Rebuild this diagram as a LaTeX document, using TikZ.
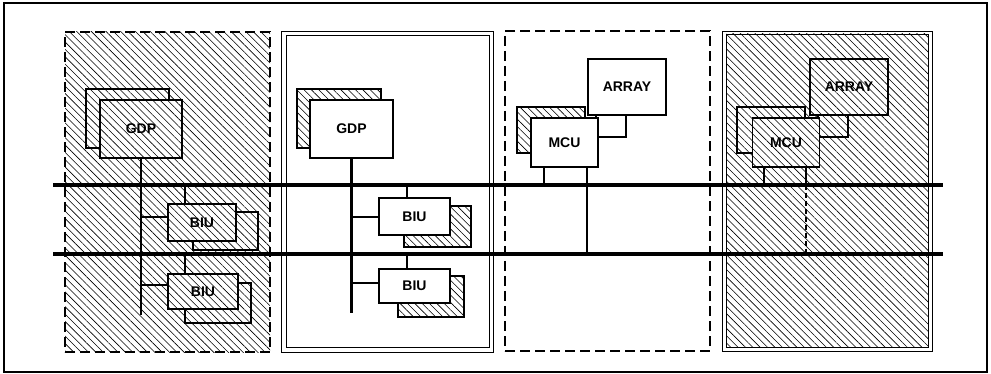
\documentclass[tikz,border=0pt]{standalone}
\usepackage{fontspec}
\setmainfont{Liberation Sans}
\usetikzlibrary{patterns.meta}
\begin{document}
\begin{tikzpicture}[x=1pt,y=-1pt,
  every node/.style={inner sep=0pt, outer sep=0pt, rectangle, font=\fontsize{14}{16}\selectfont\bfseries},
  hatch/.style={preaction={fill=white}, pattern={Lines[angle=-45,distance=5.2pt,line width=0.6pt]}},
  box/.style={draw, line width=1.1pt, fill=white},
  hbox/.style={draw, line width=1.1pt, hatch},
  dpanel/.style={draw, line width=1.1pt, dash pattern=on 10pt off 5pt},
  spanel/.style={draw, line width=0.9pt},
  bus/.style={line width=4pt},
  thinline/.style={line width=1.1pt},
  thickline/.style={line width=2.4pt},
]
\useasboundingbox (0,0) rectangle (991,374);
% outer frame
\node[draw, line width=1.5pt, minimum width=983pt, minimum height=369pt] (frame) at (495.5,187.5) {};
% panels
\node[dpanel, hatch, minimum width=205pt, minimum height=320pt] (p1) at (167.5,192) {};
\node[spanel, minimum width=212pt, minimum height=321pt] (p2o) at (387,191.5) {};
\node[spanel, minimum width=203pt, minimum height=312pt] (p2i) at (387.5,191) {};
\node[dpanel, minimum width=205pt, minimum height=320pt] (p3) at (607.5,191) {};
\node[spanel, minimum width=210pt, minimum height=320pt] (p4o) at (827,191) {};
\node[spanel, hatch, minimum width=202pt, minimum height=313pt] (p4i) at (827,190.5) {};
% buses
\coordinate (b1l) at (53,185); \coordinate (b1r) at (943,185);
\coordinate (b2l) at (53,254); \coordinate (b2r) at (943,254);
\draw[bus] (b1l) -- (b1r);
\draw[bus] (b2l) -- (b2r);

% ---- panel 1
\node[hbox, minimum width=83pt, minimum height=59pt] (g1b) at (127.5,118.5) {};
\node[hbox, minimum width=82pt, minimum height=58pt] (g1f) at (141,129) {GDP};
\node[hbox, minimum width=65pt, minimum height=38pt] (i1ab) at (225.5,231) {};
\node[hbox, minimum width=68pt, minimum height=37pt] (i1a) at (202,222.5) {BIU};
\node[hbox, minimum width=66pt, minimum height=40pt] (i1bb) at (218,303) {};
\node[hbox, minimum width=70pt, minimum height=35pt] (i1b) at (203,291.5) {BIU};
\coordinate (g1e) at (141,315);
\draw[thickline] (g1f.south) -- (g1e);
\draw[thinline] (g1f.south |- 0,217) -- (i1a.west |- 0,217);
\draw[thinline] (g1f.south |- 0,285) -- (i1b.west |- 0,285);
\draw[thinline] (i1a.north -| 185,0) -- (b1l -| 185,0);
\draw[thinline] (i1b.north -| 185,0) -- (b2l -| 185,0);

% ---- panel 2
\node[hbox, minimum width=84pt, minimum height=59pt] (g2b) at (339,118.5) {};
\node[box, minimum width=83pt, minimum height=58pt] (g2f) at (351.5,129) {GDP};
\node[hbox, minimum width=67pt, minimum height=41pt] (i2ab) at (437.5,226.5) {};
\node[box, minimum width=71pt, minimum height=37pt] (i2a) at (414.5,216.5) {BIU};
\node[hbox, minimum width=66pt, minimum height=41pt] (i2bb) at (431,296.5) {};
\node[box, minimum width=71pt, minimum height=34pt] (i2b) at (414.5,286) {BIU};
\coordinate (g2e) at (351.5,313);
\draw[thickline] (g2f.south) -- (g2e);
\draw[thinline] (g2f.south |- 0,217) -- (i2a.west |- 0,217);
\draw[thinline] (g2f.south |- 0,283) -- (i2b.west |- 0,283);
\draw[thinline] (i2a.north -| 407,0) -- (b1l -| 407,0);
\draw[thinline] (i2b.north -| 407,0) -- (b2l -| 407,0);

% ---- panel 3
\node[box, minimum width=30pt, minimum height=45pt] (a3b) at (611,114.5) {};
\node[box, minimum width=78pt, minimum height=56pt] (a3f) at (627,87) {ARRAY};
\node[hbox, minimum width=68pt, minimum height=46pt] (m3b) at (551,130) {};
\node[box, minimum width=67pt, minimum height=49pt] (m3f) at (564.5,142.5) {MCU};
\draw[thickline] (m3f.south -| 544,0) -- (b1l -| 544,0);
\draw[thinline] (m3f.south -| 587,0) -- (b2l -| 587,0);

% ---- panel 4
\node[hbox, minimum width=30pt, minimum height=45pt] (a4b) at (833,114.5) {};
\node[hbox, minimum width=78pt, minimum height=56pt] (a4f) at (849,87) {ARRAY};
\node[hbox, minimum width=68pt, minimum height=46pt] (m4b) at (771,130) {};
\node[hbox, minimum width=67pt, minimum height=49pt] (m4f) at (786,142.5) {MCU};
\draw[thinline] (m4f.south -| 764,0) -- (b1l -| 764,0);
\draw[thinline] (m4f.south -| 806,0) -- (b1l -| 806,0);
\draw[thinline, dash pattern=on 5pt off 3pt] (b1l -| 806,0) -- (b2l -| 806,0);
\end{tikzpicture}
\end{document}
